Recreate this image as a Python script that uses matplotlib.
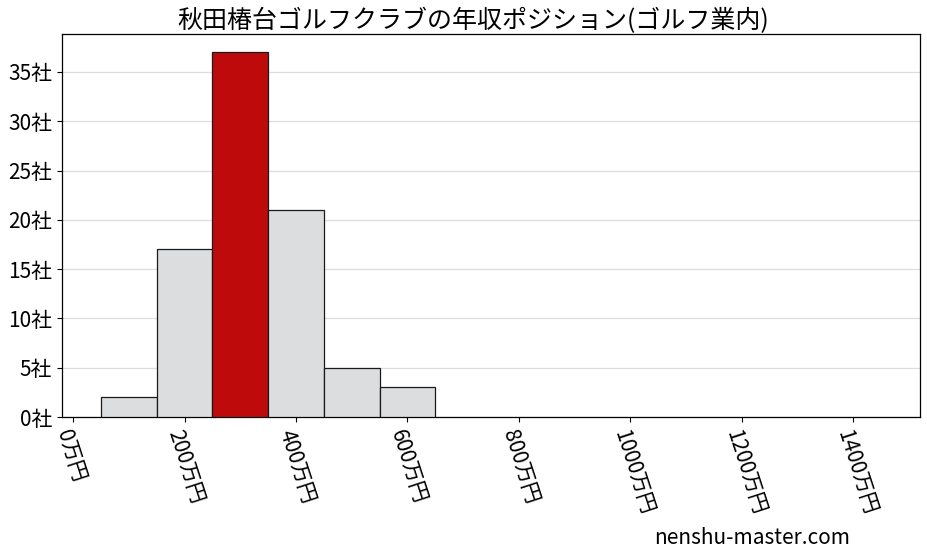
import matplotlib
matplotlib.use('Agg')
import matplotlib.pyplot as plt

plt.rcParams['font.family'] = ['Noto Sans CJK JP', 'DejaVu Sans']

# histogram bins (万円) and company counts
bin_left = [50, 150, 250, 350, 450, 550]
bin_width = 100
counts = [2, 17, 37, 21, 5, 3]
highlight = 2  # bin with this company

x_ticks = [0, 200, 400, 600, 800, 1000, 1200, 1400]
x_labels = [f'{v}万円' for v in x_ticks]
y_ticks = [0, 5, 10, 15, 20, 25, 30, 35]
y_labels = [f'{v}社' for v in y_ticks]

title = '秋田椿台ゴルフクラブの年収ポジション(ゴルフ業内)'

fig = plt.figure(figsize=(9.28, 5.57), dpi=100)
ax = fig.add_axes([62/928, 1 - 417/557, (920-62)/928, (417-34)/557])

colors = ['#be0a0a' if i == highlight else '#dcdddf' for i in range(len(counts))]
ax.bar(bin_left, counts, width=bin_width, align='edge', color=colors,
       edgecolor='#1a1a1a', linewidth=0.9, zorder=3)

ax.set_xlim(-20, 1520)
ax.set_ylim(0, max(counts) * 1.05)
ax.set_xticks(x_ticks)
ax.set_xticklabels(x_labels, rotation=-72, ha='left', va='top',
                   rotation_mode='anchor', fontsize=15)
ax.set_yticks(y_ticks)
ax.set_yticklabels(y_labels, fontsize=15)
ax.grid(axis='y', color='#dddddd', linewidth=0.9, zorder=0)
ax.set_axisbelow(True)
for s in ax.spines.values():
    s.set_linewidth(0.9)

fig.text(0.51, 0.962, title, ha='center', va='center', fontsize=18)
fig.text(0.81, 0.035, 'nenshu-master.com', ha='center', va='center', fontsize=15)

plt.savefig('out.png', dpi=100)
plt.close('all')
